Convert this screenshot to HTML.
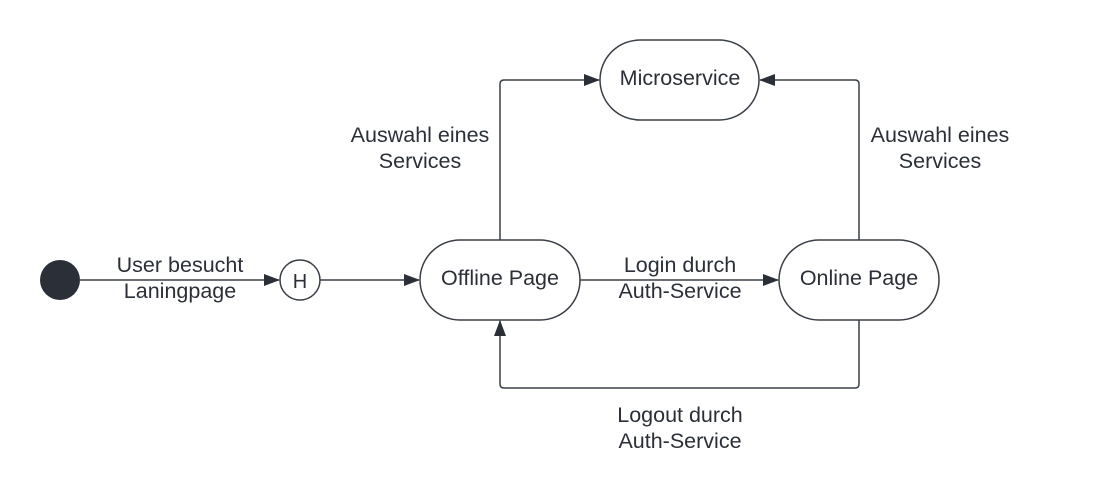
<!DOCTYPE html>
<html><head><meta charset="utf-8"><style>
html,body{margin:0;padding:0;background:#fff;}
svg{display:block;}
text{font-family:"Liberation Sans",sans-serif;font-size:21.5px;fill:#2b2f37;text-anchor:middle;}
</style></head><body>
<svg width="1100" height="503" viewBox="0 0 1100 503" xmlns="http://www.w3.org/2000/svg">
<defs><marker id="a" markerWidth="16" markerHeight="12" refX="15" refY="6" orient="auto" markerUnits="userSpaceOnUse"><path d="M0,0 L16,6 L0,12 z" fill="#2b2f37"/></marker></defs>
<g stroke="#3a3e46" stroke-width="1.5" fill="none">
<circle cx="60" cy="280" r="20" fill="#2b2f37" stroke="none"/>
<line x1="80" y1="280" x2="279" y2="280" marker-end="url(#a)"/>
<circle cx="300" cy="280" r="20" fill="#fff"/>
<line x1="320" y1="280" x2="419" y2="280" marker-end="url(#a)"/>
<rect x="420" y="240" width="160" height="80" rx="40" fill="#fff"/>
<rect x="779" y="240" width="160" height="80" rx="40" fill="#fff"/>
<rect x="600" y="40" width="159" height="80" rx="40" fill="#fff"/>
<line x1="580" y1="280" x2="778" y2="280" marker-end="url(#a)"/>
<path d="M500,240 V84 Q500,80 504,80 H599" marker-end="url(#a)"/>
<path d="M859,240 V84 Q859,80 855,80 H760" marker-end="url(#a)"/>
<path d="M859,320 V384 Q859,388 855,388 H504 Q500,388 500,384 V321" marker-end="url(#a)"/>
</g>
<text x="300" y="288" style="font-size:20px">H</text>
<text x="500" y="285">Offline Page</text>
<text x="859" y="285">Online Page</text>
<text x="680" y="85">Microservice</text>
<text x="180" y="272">User besucht</text>
<text x="180" y="298">Laningpage</text>
<text x="680" y="272">Login durch</text>
<text x="680" y="298">Auth-Service</text>
<text x="420" y="142">Auswahl eines</text>
<text x="420" y="168">Services</text>
<text x="940" y="142">Auswahl eines</text>
<text x="940" y="168">Services</text>
<text x="680" y="422">Logout durch</text>
<text x="680" y="448">Auth-Service</text>
</svg>
</body></html>
